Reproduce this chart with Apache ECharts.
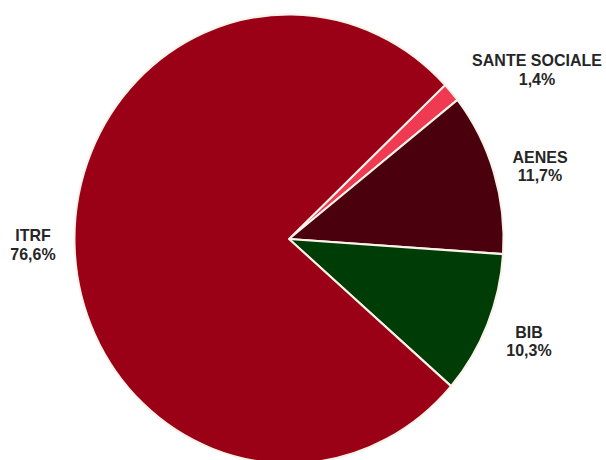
<!DOCTYPE html>
<html>
<head>
<meta charset="utf-8">
<script src="https://cdn.jsdelivr.net/npm/echarts@6/dist/echarts.min.js"></script>
<style>
  html, body { margin: 0; padding: 0; background: #ffffff; overflow: hidden; }
  #wrap { width: 606px; height: 460px; overflow: hidden; position: relative; }
  /* the pie is drawn slightly taller than wide */
  #chart { width: 606px; height: 460px; transform: scaleY(1.047); transform-origin: 289px 239px; }
</style>
</head>
<body>
<div id="wrap"><div id="chart"></div></div>
<script>
// Share of staff by category (%)
const categories = ['SANTE SOCIALE', 'AENES', 'BIB', 'ITRF'];
const shares = [1.4, 11.7, 10.3, 76.6];
const sliceColors = ['#f03a52', '#4b000e', '#003d06', '#9a0016'];

// label anchor points (chart pixels), one per category
const labelAnchors = [[537, 77], [540, 169], [529, 336], [33, 244]];

const chart = echarts.init(document.getElementById('chart'), null, { renderer: 'svg' });

chart.setOption({
  backgroundColor: '#ffffff',
  animation: false,
  series: [{
    type: 'pie',
    center: [289, 239],
    radius: [0, 214.5],
    startAngle: 43.3,
    clockwise: true,
    avoidLabelOverlap: false,
    data: categories.map((name, i) => ({
      name: name,
      value: shares[i],
      itemStyle: { color: sliceColors[i] }
    })),
    itemStyle: { borderColor: '#faf3ea', borderWidth: 2 },
    label: {
      show: true,
      position: 'outside',
      fontFamily: '"Liberation Sans", Arial, sans-serif',
      fontWeight: 'bold',
      fontSize: 16,
      lineHeight: 17.5,
      color: '#262626',
      align: 'center',
      formatter: p => p.name + '\n' + p.value.toFixed(1).replace('.', ',') + '%'
    },
    labelLine: { show: false },
    labelLayout: params => {
      const a = labelAnchors[params.dataIndex];
      return { x: a[0], y: a[1], align: 'center', verticalAlign: 'middle' };
    },
    emphasis: { disabled: true }
  }]
});
</script>
</body>
</html>
